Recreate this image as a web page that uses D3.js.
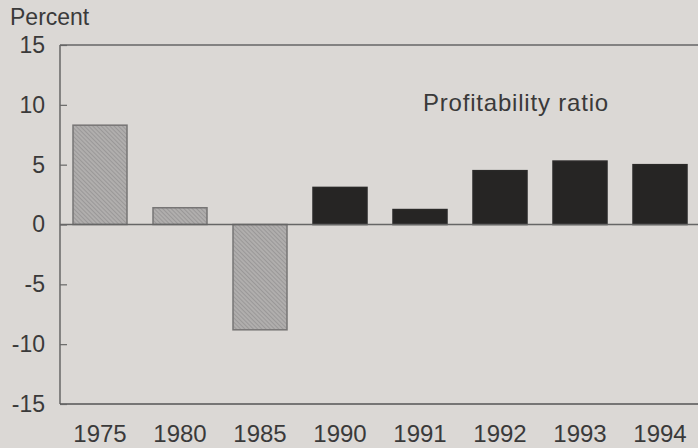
<!DOCTYPE html>
<html>
<head>
<meta charset="utf-8">
<script src="https://cdn.jsdelivr.net/npm/d3@7"></script>
<style>
  body { margin: 0; background: #dbd8d5; }
  text { font-family: "Liberation Sans", Arial, sans-serif; fill: #3a3a3a; }
</style>
</head>
<body>
<script>
// profitability ratio chart

var years = ["1975", "1980", "1985", "1990", "1991", "1992", "1993", "1994"];
var ratio = [8.3, 1.4, -8.8, 3.1, 1.25, 4.5, 5.3, 5.0];
var hatched = [true, true, true, false, false, false, false, false];
var yTicks = [15, 10, 5, 0, -5, -10, -15];

var W = 698, H = 448;
var plotLeft = 60, plotTop = 45, plotBottom = 404;

var svg = d3.select("body").append("svg")
	.attr("width", W)
	.attr("height", H);

svg.append("rect")
	.attr("width", W)
	.attr("height", H)
	.attr("fill", "#dbd8d5");

// hatch for the older years
var pat = svg.append("defs").append("pattern")
	.attr("id", "hatch")
	.attr("patternUnits", "userSpaceOnUse")
	.attr("width", 3)
	.attr("height", 3)
	.attr("patternTransform", "rotate(-45)");
pat.append("rect")
	.attr("width", 3).attr("height", 3)
	.attr("fill", "#b0aead");
pat.append("line")
	.attr("x1", 0).attr("y1", 0).attr("x2", 0).attr("y2", 3)
	.attr("stroke", "#858383")
	.attr("stroke-width", 1);

var x = d3.scaleBand()
	.domain(years)
	.range([plotLeft, 700])
	.paddingInner(0.325)
	.paddingOuter(0.1625);

var y = d3.scaleLinear()
	.domain([-15, 15])
	.range([plotBottom, plotTop]);

// frame: left, top, bottom
svg.append("line")
	.attr("x1", plotLeft).attr("x2", plotLeft)
	.attr("y1", y(15)).attr("y2", y(-15))
	.attr("stroke", "#555").attr("stroke-width", 1.3);
svg.append("line")
	.attr("x1", plotLeft).attr("x2", W)
	.attr("y1", y(15)).attr("y2", y(15))
	.attr("stroke", "#666").attr("stroke-width", 1.3);
svg.append("line")
	.attr("x1", plotLeft).attr("x2", W)
	.attr("y1", y(-15)).attr("y2", y(-15))
	.attr("stroke", "#555").attr("stroke-width", 1.3);

// inward ticks + labels (plain hyphen for minus, like the print)
var yAxis = d3.axisLeft(y)
	.tickValues(yTicks)
	.tickSize(-7)
	.tickPadding(15)
	.tickFormat(function (d) { return String(d); });
var ga = svg.append("g")
	.attr("transform", "translate(" + plotLeft + ",0)")
	.call(yAxis);
ga.select(".domain").remove();
ga.selectAll(".tick line").attr("stroke", "#666").attr("stroke-width", 1.2);
ga.selectAll(".tick text")
	.attr("font-size", 23)
	.attr("fill", "#3a3a3a")
	.attr("font-family", "Liberation Sans, Arial, sans-serif");

// bars
svg.selectAll(".bar")
	.data(ratio)
	.enter().append("rect")
	.attr("class", "bar")
	.attr("x", function (d, i) { return x(years[i]); })
	.attr("width", x.bandwidth())
	.attr("y", function (d) { return y(Math.max(0, d)); })
	.attr("height", function (d) { return Math.abs(y(d) - y(0)); })
	.attr("fill", function (d, i) { return hatched[i] ? "url(#hatch)" : "#262524"; })
	.attr("stroke", function (d, i) { return hatched[i] ? "#777575" : "#2a2928"; })
	.attr("stroke-width", 1.5);

// zero line
svg.append("line")
	.attr("x1", plotLeft).attr("x2", W)
	.attr("y1", y(0)).attr("y2", y(0))
	.attr("stroke", "#666").attr("stroke-width", 1.3);

// x labels
var xAxis = d3.axisBottom(x).tickSize(0).tickPadding(21);
var gx = svg.append("g")
	.attr("transform", "translate(0," + plotBottom + ")")
	.call(xAxis);
gx.select(".domain").remove();
gx.selectAll(".tick text")
	.attr("font-size", 24)
	.attr("fill", "#3a3a3a")
	.attr("font-family", "Liberation Sans, Arial, sans-serif");

svg.append("text")
	.attr("x", 10)
	.attr("y", 25)
	.attr("font-size", 23)
	.text("Percent");

svg.append("text")
	.attr("x", 423)
	.attr("y", 111)
	.attr("font-size", 24)
	.attr("letter-spacing", 0.8)
	.text("Profitability ratio");
</script>
</body>
</html>
